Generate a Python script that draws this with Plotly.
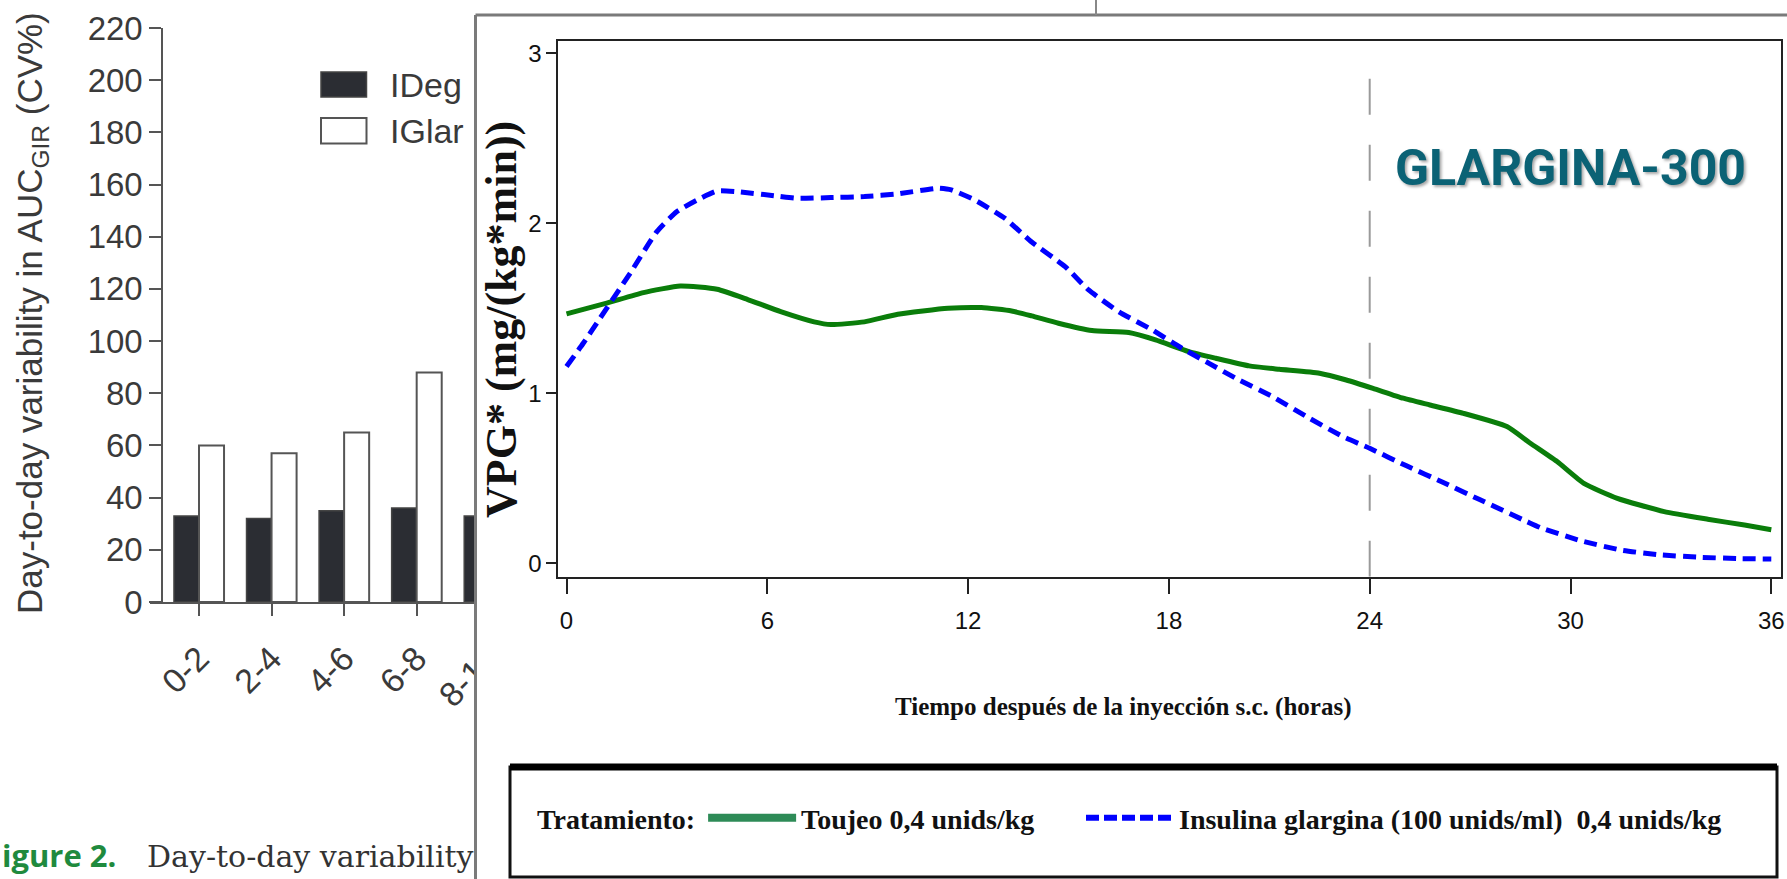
import plotly.graph_objects as go

W, H = 1787, 879

# ---------------- data: bar chart (left, partly covered) ----------------
bar_categories = ["0-2", "2-4", "4-6", "6-8", "8-10"]
ideg_cv = [33, 32, 35, 36, 33]
iglar_cv = [60, 57, 65, 88, None]          # 8-10 IGlar hidden behind the overlay
bar_yticks = [0, 20, 40, 60, 80, 100, 120, 140, 160, 180, 200, 220]

# ---------------- data: GIR profile chart ----------------
toujeo_t = [0, 1.2, 2.3, 3.4, 4.5, 5.4, 6.4, 7.4, 7.9, 8.9, 9.9, 11.4, 12.4, 13.3,
            13.9, 14.7, 15.7, 16.8, 17.6, 18.6, 19.4, 20.4, 21.3, 22.5, 23.3, 24.1,
            25.0, 25.8, 26.8, 28.1, 28.8, 29.6, 30.4, 31.4, 32.8, 34.1, 35.2, 36.0]
toujeo_v = [1.467, 1.53, 1.592, 1.631, 1.612, 1.553, 1.48, 1.42, 1.404, 1.42, 1.465,
            1.50, 1.504, 1.484, 1.455, 1.412, 1.369, 1.357, 1.314, 1.245, 1.206, 1.161,
            1.141, 1.118, 1.078, 1.029, 0.971, 0.931, 0.882, 0.804, 0.706, 0.598, 0.47,
            0.382, 0.304, 0.259, 0.225, 0.197]
glargina_t = [0, 0.5, 1.0, 1.9, 2.7, 3.3, 3.9, 4.5, 5.1, 6.3, 6.9, 7.9, 8.9, 9.9, 11.1,
              11.5, 12.2, 13.1, 13.9, 14.9, 15.6, 16.5, 17.5, 18.3, 19.2, 20.0, 21.1,
              22.2, 23.2, 24.0, 25.1, 26.2, 27.3, 28.7, 29.1, 30.3, 31.5, 32.7, 33.9,
              35.1, 36.0]
glargina_v = [1.157, 1.294, 1.441, 1.706, 1.951, 2.069, 2.137, 2.19, 2.186, 2.16, 2.147,
              2.151, 2.157, 2.173, 2.206, 2.196, 2.137, 2.029, 1.89, 1.745, 1.608, 1.48,
              1.373, 1.275, 1.176, 1.088, 0.98, 0.853, 0.745, 0.676, 0.573, 0.475, 0.373,
              0.245, 0.21, 0.133, 0.078, 0.049, 0.035, 0.027, 0.025]
line_xticks = [0, 6, 12, 18, 24, 30, 36]
line_yticks = [0, 1, 2, 3]
ref_hour = 24


def px(p):
    return p / W


def py(p):
    return 1 - p / H


SANS = "Liberation Sans, Arial, sans-serif"
SERIF = "Liberation Serif, Times New Roman, serif"
BAR_TXT = "#3a3a3a"
CLEAR = "rgba(0,0,0,0)"
LEG_FONT = dict(family=SERIF, size=28, color="#111", weight="bold")

fig = go.Figure()

# ---- bar chart (subplot xy) ----
fig.add_trace(go.Bar(x=bar_categories, y=ideg_cv, name="IDeg", showlegend=False,
                     marker=dict(color="#2b2d33", line=dict(color="#444", width=1.5)),
                     xaxis="x", yaxis="y", hoverinfo="skip"))
fig.add_trace(go.Bar(x=bar_categories, y=iglar_cv, name="IGlar", showlegend=False,
                     marker=dict(color="white", line=dict(color="#555", width=2)),
                     xaxis="x", yaxis="y", hoverinfo="skip"))

# ---- overlay panel (subplot x2y2, pixel coordinates) ----
fig.add_trace(go.Scatter(x=[475.5, 1800, 1800, 475.5, 475.5], y=[15, 15, 900, 900, 15],
                         mode="lines", fill="toself", fillcolor="white",
                         line=dict(color="#7a7a7a", width=3), xaxis="x2", yaxis="y2",
                         showlegend=False, hoverinfo="skip"))

# ---- GIR chart (subplot x3y3) ----
fig.add_trace(go.Scatter(x=toujeo_t, y=toujeo_v, mode="lines", xaxis="x3", yaxis="y3",
                         line=dict(color="#0a7d0a", width=5, shape="spline", smoothing=0.5),
                         showlegend=False, hoverinfo="skip"))
fig.add_trace(go.Scatter(x=glargina_t, y=glargina_v, mode="lines", xaxis="x3", yaxis="y3",
                         line=dict(color="#0000ff", width=5, dash="13px,7px",
                                   shape="spline", smoothing=0.5),
                         showlegend=False, hoverinfo="skip"))
# legend entries
fig.add_trace(go.Scatter(x=[None], y=[None], mode="lines", xaxis="x3", yaxis="y3",
                         name="Toujeo 0,4 unids/kg", legend="legend2",
                         line=dict(color="#2e8b57", width=8)))
fig.add_trace(go.Scatter(x=[None], y=[None], mode="lines", xaxis="x3", yaxis="y3",
                         name="Insulina glargina (100 unids/ml)\u00a0 0,4 unids/kg",
                         legend="legend3",
                         line=dict(color="#0000ff", width=6, dash="13px,5px")))

cat0 = 199.0
catw = 72.56
bar_right = 540

fig.update_layout(
    width=W, height=H, autosize=False,
    margin=dict(l=0, r=0, t=0, b=0),
    paper_bgcolor="white", plot_bgcolor=CLEAR,
    template="none",
    barmode="group", bargap=0.31, bargroupgap=0,
    showlegend=True,
    xaxis=dict(domain=[px(150), px(bar_right)], anchor="y",
               range=[(150 - cat0) / catw, (bar_right - cat0) / catw],
               showline=True, linecolor="#555", linewidth=2,
               ticks="outside", ticklen=12, tickwidth=2, tickcolor="#555",
               tickangle=-45, ticklabelstandoff=9,
               tickfont=dict(family=SANS, size=34, color=BAR_TXT),
               showgrid=False, zeroline=False, fixedrange=True),
    yaxis=dict(domain=[py(602), py(28)], anchor="free", position=px(162.3),
               range=[0, 220], tickvals=bar_yticks,
               showline=True, linecolor="#555", linewidth=2,
               ticks="outside", ticklen=12, tickwidth=2, tickcolor="#555",
               tickfont=dict(family=SANS, size=33, color=BAR_TXT),
               showgrid=False, zeroline=False, fixedrange=True),
    xaxis2=dict(domain=[0, 1], range=[0, W], visible=False, fixedrange=True),
    yaxis2=dict(domain=[0, 1], range=[H, 0], visible=False, fixedrange=True),
    xaxis3=dict(domain=[px(558.3), px(1781)], anchor="y3", range=[-0.245, 36.29],
                tickvals=line_xticks, showline=True, mirror=True, linecolor="#222",
                linewidth=2, ticks="outside", ticklen=15, tickwidth=2, tickcolor="#222",
                ticklabelstandoff=6,
                tickfont=dict(family=SANS, size=24, color="#111"),
                showgrid=False, zeroline=False, fixedrange=True),
    yaxis3=dict(domain=[py(576.7), py(40.7)], anchor="x3", range=[-0.079, 3.074],
                tickvals=line_yticks, showline=True, mirror=True, linecolor="#222",
                linewidth=2, ticks="outside", ticklen=10, tickwidth=2, tickcolor="#222",
                tickfont=dict(family=SANS, size=24, color="#111"),
                showgrid=False, zeroline=False, fixedrange=True),
    legend2=dict(x=px(535), y=py(818), xanchor="left", yanchor="middle",
                 orientation="h", bgcolor=CLEAR, borderwidth=0,
                 title=dict(text="Tratamiento:", side="left", font=LEG_FONT),
                 font=LEG_FONT, itemwidth=88, itemclick=False, itemdoubleclick=False),
    legend3=dict(x=px(1081), y=py(818), xanchor="left", yanchor="middle",
                 orientation="h", bgcolor=CLEAR, borderwidth=0,
                 font=LEG_FONT, itemwidth=88, itemclick=False, itemdoubleclick=False),
)

shapes = [
    # bar legend swatches
    dict(type="rect", xref="paper", yref="paper", x0=px(321), x1=px(366.5),
         y0=py(97), y1=py(72), fillcolor="#2b2d33", line=dict(color="#444", width=1.5)),
    dict(type="rect", xref="paper", yref="paper", x0=px(321), x1=px(366.5),
         y0=py(143.5), y1=py(118), fillcolor="white", line=dict(color="#555", width=2)),
    # frame of the panel behind (top)
    dict(type="line", xref="paper", yref="paper", x0=px(1096), x1=px(1096),
         y0=py(0), y1=py(15), line=dict(color="#888", width=2)),
    # reference line at 24 h
    dict(type="line", xref="x3", yref="y3", x0=ref_hour, x1=ref_hour, y0=-0.079, y1=2.91,
         line=dict(color="#9a9a9a", width=2, dash="36px,30px"), layer="below"),
    # legend box
    dict(type="rect", xref="paper", yref="paper", x0=px(510), x1=px(1777),
         y0=py(877), y1=py(767), line=dict(color="#111", width=3)),
    dict(type="line", xref="paper", yref="paper", x0=px(510), x1=px(1777),
         y0=py(767), y1=py(767), line=dict(color="#000", width=7)),
]
fig.update_layout(shapes=shapes)

annotations = [
    dict(text="Day-to-day variability in AUC<sub>GIR</sub> (CV%)", x=px(32), y=py(313),
         xref="paper", yref="paper", textangle=-90, showarrow=False,
         xanchor="center", yanchor="middle",
         font=dict(family=SANS, size=35, color=BAR_TXT)),
    dict(text="IDeg", x=px(388), y=py(85), xref="paper", yref="paper", showarrow=False,
         xanchor="left", yanchor="middle", font=dict(family=SANS, size=34, color=BAR_TXT)),
    dict(text="IGlar", x=px(388), y=py(131), xref="paper", yref="paper", showarrow=False,
         xanchor="left", yanchor="middle", font=dict(family=SANS, size=34, color=BAR_TXT)),
    dict(text="igure 2.", x=0, y=py(855), xref="paper", yref="paper", showarrow=False,
         xanchor="left", yanchor="middle",
         font=dict(family="Open Sans, Liberation Sans, sans-serif", size=31,
                   color="#1f8a3e", weight="bold")),
    dict(text="Day-to-day variability", x=px(145), y=py(856), xref="paper", yref="paper",
         showarrow=False, xanchor="left", yanchor="middle",
         font=dict(family="DejaVu Serif, serif", size=30, color="#333")),
    dict(text="VPG* (mg/(kg*min))", x=px(501), y=py(319), xref="paper", yref="paper",
         textangle=-90, showarrow=False, xanchor="center", yanchor="middle",
         font=dict(family=SERIF, size=44, color="#111", weight="bold")),
    dict(text="Tiempo después de la inyección s.c. (horas)", x=px(1123), y=py(707),
         xref="paper", yref="paper", showarrow=False, xanchor="center", yanchor="middle",
         font=dict(family=SERIF, size=25, color="#111", weight="bold")),
    dict(text="GLARGINA-300", x=px(1570), y=py(168), xref="paper", yref="paper",
         showarrow=False, xanchor="center", yanchor="middle",
         font=dict(family="Roboto, Open Sans, sans-serif", size=50,
                   color="#0b6275", weight="bold", shadow="2px 2px 3px rgba(0,0,0,0.35)")),
]
fig.update_layout(annotations=annotations)

fig.write_html("out.html", config={"displayModeBar": False},
               post_script="document.body.style.margin='0';")
